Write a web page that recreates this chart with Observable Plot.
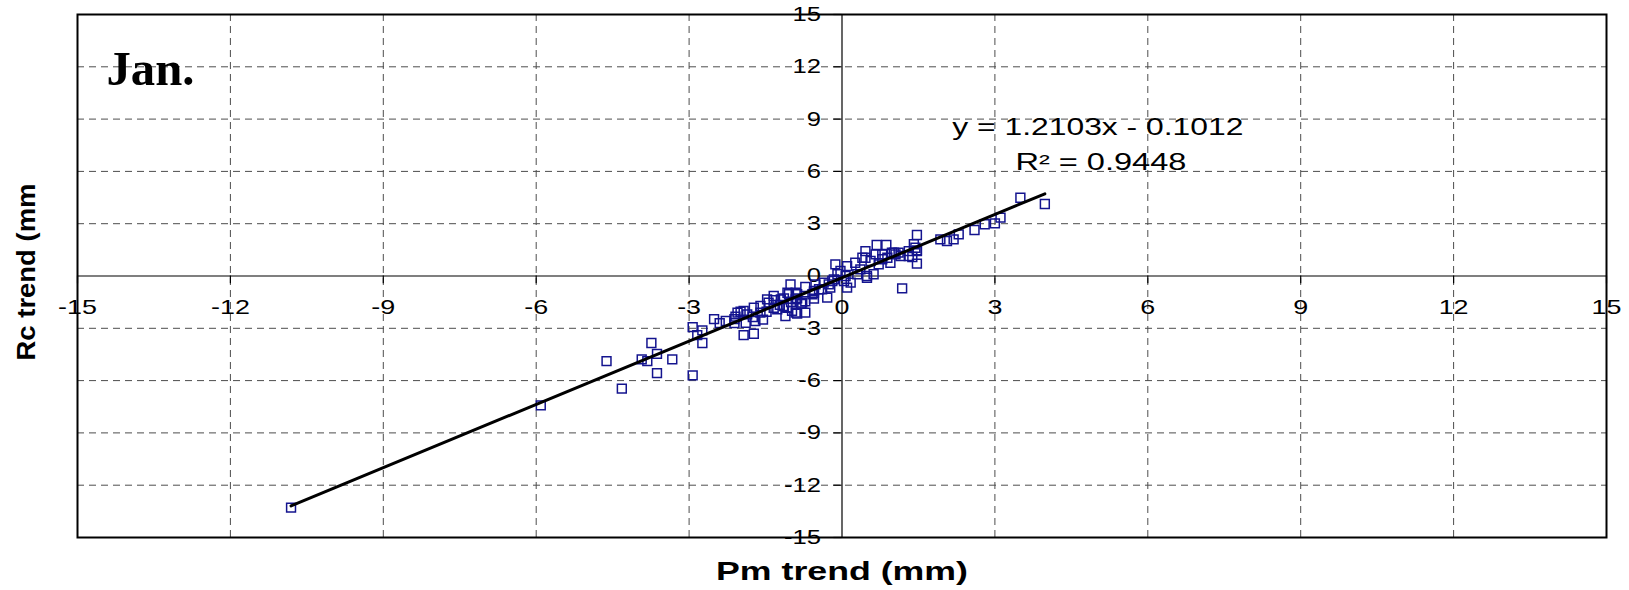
<!DOCTYPE html>
<html><head><meta charset="utf-8">
<script src="https://cdn.jsdelivr.net/npm/d3@7"></script>
<script src="https://cdn.jsdelivr.net/npm/@observablehq/plot@0.6"></script>
<style>body{margin:0;background:#fff} svg{display:block}</style>
</head><body><div id="chart"></div>
<script>
const pmTrend = [-10.81,-5.91,-4.62,-4.32,-3.93,-3.82,-3.74,-3.63,-3.63,-3.33,-2.93,-2.93,-2.84,-2.74,-2.74,-2.51,-2.40,-2.28,-2.11,-2.11,-2.09,-2.05,-1.99,-1.93,-1.93,-1.89,-1.86,-1.75,-1.73,-1.73,-1.70,-1.60,-1.60,-1.55,-1.48,-1.47,-1.44,-1.34,-1.34,-1.34,-1.27,-1.22,-1.20,-1.14,-1.14,-1.11,-1.07,-1.07,-1.04,-1.01,-1.00,-0.98,-0.91,-0.91,-0.91,-0.88,-0.88,-0.88,-0.80,-0.78,-0.72,-0.72,-0.72,-0.58,-0.55,-0.55,-0.55,-0.52,-0.45,-0.39,-0.36,-0.29,-0.26,-0.23,-0.19,-0.16,-0.13,-0.09,-0.03,0.04,0.07,0.10,0.10,0.17,0.26,0.30,0.36,0.40,0.46,0.46,0.49,0.49,0.56,0.62,0.66,0.68,0.72,0.79,0.79,0.87,0.89,0.95,0.98,1.02,1.05,1.11,1.15,1.18,1.31,1.31,1.38,1.41,1.44,1.47,1.47,1.47,1.47,1.93,2.06,2.19,2.29,2.60,2.80,3.00,3.11,3.50,3.98];
const rcTrend = [-13.29,-7.42,-4.88,-6.46,-4.78,-4.88,-3.84,-4.47,-5.57,-4.78,-5.70,-2.93,-3.39,-3.12,-3.84,-2.47,-2.70,-2.58,-2.47,-2.70,-2.33,-2.10,-2.05,-3.39,-2.00,-2.68,-2.20,-2.35,-3.31,-1.82,-2.58,-1.72,-2.10,-2.50,-2.05,-1.34,-1.53,-1.39,-1.15,-1.82,-1.91,-1.66,-1.34,-1.28,-1.72,-2.30,-1.82,-0.96,-1.05,-0.48,-1.50,-2.00,-2.10,-0.96,-1.34,-1.28,-2.16,-1.05,-1.60,-1.53,-2.10,-1.45,-0.63,-1.05,-0.96,-1.30,-0.86,-0.48,-0.76,-0.76,-0.38,-1.24,-0.48,-0.67,-0.29,-0.19,0.67,0.10,0.29,-0.29,0.00,0.57,-0.67,-0.38,0.76,0.10,0.38,1.05,1.43,1.05,-0.10,0.00,0.86,0.10,1.24,1.78,0.67,0.96,1.24,1.78,1.05,0.76,1.34,1.34,1.24,1.34,1.15,-0.71,1.43,1.15,1.09,1.82,1.62,1.47,0.71,2.35,1.43,2.10,2.01,2.10,2.39,2.64,2.97,3.02,3.35,4.49,4.13];
const xTicks = [-15,-12,-9,-6,-3,0,3,6,9,12,15];
const yTicks = [-15,-12,-9,-6,-3,0,3,6,9,12,15];
const gridValues = [-12,-9,-6,-3,3,6,9,12];
const slope = 1.2103, intercept = -0.1012;
const eqLabel = "y = 1.2103x - 0.1012";
const r2Label = "R\u00b2 = 0.9448";
const panelTitle = "Jan.";
const xTitle = "Pm trend (mm)";
const yTitle = "Rc trend (mm";

const points = pmTrend.map((x, i) => ({x, y: rcTrend[i]}));
const fit = [d3.min(pmTrend), d3.max(pmTrend)].map(x => ({x, y: slope * x + intercept}));

const sans = "'Liberation Sans', Arial, sans-serif";
const chart = Plot.plot({
  width: 1629, height: 590,
  marginLeft: 77, marginRight: 23, marginTop: 14, marginBottom: 53,
  x: {domain: [-15, 15], axis: null},
  y: {domain: [-15, 15], axis: null},
  style: {fontFamily: sans, background: "white", color: "black"},
  marks: [
    Plot.ruleX(gridValues, {stroke: "#4d4d4d", strokeWidth: 1, strokeDasharray: "7,5"}),
    Plot.ruleY(gridValues, {stroke: "#4d4d4d", strokeWidth: 1, strokeDasharray: "7,5"}),
    Plot.ruleX([0], {stroke: "black", strokeWidth: 1.2}),
    Plot.ruleY([0], {stroke: "black", strokeWidth: 1.2}),
    Plot.ruleX(xTicks, {y1: 0, y2: -0.45, stroke: "black", strokeWidth: 1.2}),
    Plot.ruleY(yTicks, {x1: -0.16, x2: 0, stroke: "black", strokeWidth: 1.2}),
    Plot.text(xTicks, {x: d => d, y: 0, text: d => String(d), dy: 31.5, fontSize: 21, lineAnchor: "middle", fill: "black"}),
    Plot.text(yTicks, {x: 0, y: d => d, text: d => String(d), dx: -21, textAnchor: "end", lineAnchor: "middle", fontSize: 20, fill: "black"}),
    Plot.dot(points, {x: "x", y: "y", symbol: "square", r: 5, stroke: "#14148f", strokeWidth: 1.5, fill: "none"}),
    Plot.line(fit, {x: "x", y: "y", stroke: "black", strokeWidth: 3}),
    Plot.text([eqLabel], {x: 5.02, y: 8.49, fontSize: 23, fill: "black"}),
    Plot.text([r2Label], {x: 5.08, y: 6.48, fontSize: 23, fill: "black"}),
    Plot.frame({stroke: "black", strokeWidth: 2}),
    Plot.text([panelTitle], {frameAnchor: "top-left", dx: 29, dy: 55, textAnchor: "start", lineAnchor: "middle",
      fontFamily: "'Liberation Serif', 'Times New Roman', serif", fontWeight: "bold", fontSize: 48, fill: "black"}),
    Plot.text([xTitle], {frameAnchor: "bottom", dy: 34, textAnchor: "middle", lineAnchor: "middle", fontWeight: "bold", fontSize: 25, fill: "black"}),
    Plot.text([yTitle], {frameAnchor: "left", dx: -51, dy: -4, rotate: -90, textAnchor: "middle", lineAnchor: "middle", fontWeight: "bold", fontSize: 25, fill: "black"})
  ]
});
document.getElementById("chart").append(chart);

const fixedLengths = new Map([[xTitle, 252], [yTitle, 177], [eqLabel, 291], [r2Label, 171], [panelTitle, 88]]);
d3.select(chart).selectAll("text").each(function () {
  const t = this.textContent;
  const L = fixedLengths.has(t) ? fixedLengths.get(t) : this.getComputedTextLength() * 1.28;
  this.setAttribute("textLength", L);
  this.setAttribute("lengthAdjust", "spacingAndGlyphs");
});
</script>
</body></html>
